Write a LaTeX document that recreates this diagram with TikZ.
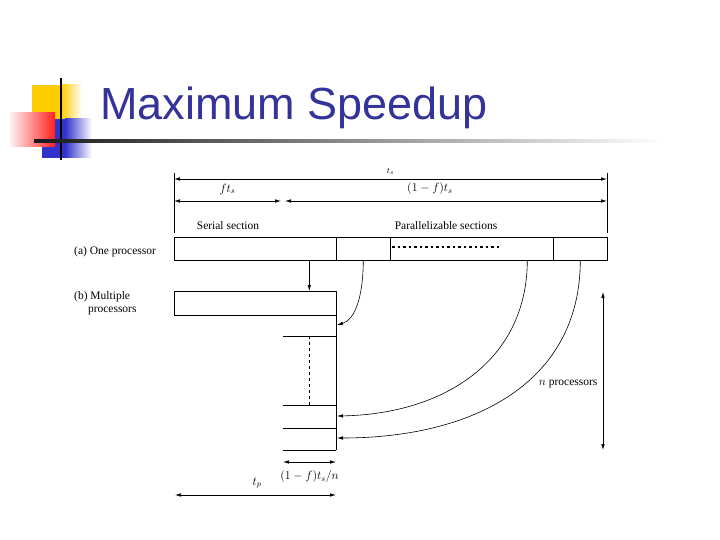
\documentclass[tikz,border=0pt]{standalone}
\usepackage{fontspec}
\setmainfont{Liberation Serif}
\newfontfamily\titlefont{Liberation Sans}
\definecolor{ttlblue}{HTML}{333399}
\definecolor{decoyellow}{HTML}{FFCC00}
\definecolor{decoblue}{HTML}{3333CC}
\definecolor{decored}{HTML}{FF2020}
\usetikzlibrary{arrows.meta}

\begin{document}
\begin{tikzpicture}[x=1pt,y=-1pt,
  font=\fontsize{11.5}{13}\selectfont,
  seg/.style={draw,line width=0.6pt,inner sep=0pt,minimum height=23pt,anchor=north west},
  dim/.style={{Latex[length=6pt,width=3.5pt]}-{Latex[length=6pt,width=3.5pt]},line width=0.6pt},
  ar/.style={-{Latex[length=6pt,width=3.5pt]},line width=0.6pt}]
\useasboundingbox[fill=white] (0,0) rectangle (720,540);
% title decoration
\fill[decoyellow] (32,85) rectangle (61,119);
\shade[left color=decoyellow,right color=white] (61,85) rectangle (82,119);
\fill[decoblue] (42,119) rectangle (65,158);
\shade[left color=decoblue,right color=white] (65,119) rectangle (92,158);
\shade[left color=red!5,right color=decored] (10,113) rectangle (55,147);
\draw[line width=2.5pt] (61,78) -- (61,160);
\shade[left color=black!90,right color=white] (34,140) rectangle (665,142.5);
\node[anchor=base west,inner sep=0pt,text=ttlblue,font=\titlefont\fontsize{45}{48}\selectfont] (title) at (100,120) {Maximum Speedup};

% dimensions on top
\draw[line width=0.6pt] (174,173) -- (174,233);
\draw[line width=0.6pt] (607,173) -- (607,233);
\coordinate (tsL) at (174,179);
\coordinate (tsR) at (607,179);
\draw[dim] (tsL) -- node[above=1pt,font=\footnotesize]{$t_s$} (tsR);
\coordinate (fL) at (174,201);
\coordinate (fR) at (281,201);
\coordinate (pL) at (285,201);
\coordinate (pR) at (607,201);
\draw[dim] (fL) -- node[above=3pt]{$ft_s$} (fR);
\draw[dim] (pL) -- node[above=3pt,pos=0.45]{$(1-f)t_s$} (pR);
\node (serlbl) at (228,226) {Serial section};
\node (parlbl) at (446,226) {Parallelizable sections};

% (a) one processor
\node[anchor=west,inner sep=0pt] (lblA) at (74,252) {(a) One processor};
\node[seg,minimum width=162pt] (serA) at (174,237) {};
\node[seg,minimum width=54pt] (parA) at (336,237) {};
\node[seg,minimum width=163pt] (dotA) at (390,237) {};
\node[seg,minimum width=54pt] (lastA) at (553,237) {};
\draw[line width=1.2pt,dash pattern=on 2.5pt off 3pt] (392,247) -- (500,247);

% (b) multiple processors
\node[anchor=north west,inner sep=0pt,align=left] (lblB) at (74,291) {(b) Multiple\\\hspace{1.2em}processors};
\node[seg,minimum width=162pt,minimum height=24pt] (serB) at (174,291) {};
\draw[line width=0.6pt] (336,315) -- (336,450);
\draw[line width=0.6pt] (283,336) -- (336,336);
\draw[line width=0.6pt] (283,405) -- (336,405);
\draw[line width=0.6pt] (283,428) -- (336,428);
\draw[line width=0.6pt] (283,450) -- (336,450);
\draw[line width=0.6pt,dashed] (309,336) -- (309,405);
\coordinate (in1) at (337,325);
\coordinate (in2) at (337,416);
\coordinate (in3) at (337,438);

\draw[ar] ([xshift=54pt]serA.south) -- ([xshift=54pt]serB.north);
\draw[ar] (parA.south) .. controls (363,300) and (354,320) .. (in1);
\draw[ar] ([xshift=55.5pt]dotA.south) .. controls (527,360) and (445,414) .. (in2);
\draw[ar] (lastA.south) .. controls (580,385) and (470,438) .. (in3);

\coordinate (nTop) at (603,292);
\coordinate (nBot) at (603,450);
\draw[dim] (nTop) -- node[left=2pt,pos=0.58]{$n$ processors} (nBot);

% bottom dimensions
\coordinate (sL) at (283,462);
\coordinate (sR) at (336,462);
\draw[dim] (sL) -- node[below=5pt]{$(1-f)t_s/n$} (sR);
\coordinate (tpL) at (175,495);
\coordinate (tpR) at (336,495);
\draw[dim] (tpL) -- node[above=3pt,pos=0.51]{$t_p$} (tpR);
\end{tikzpicture}
\end{document}
